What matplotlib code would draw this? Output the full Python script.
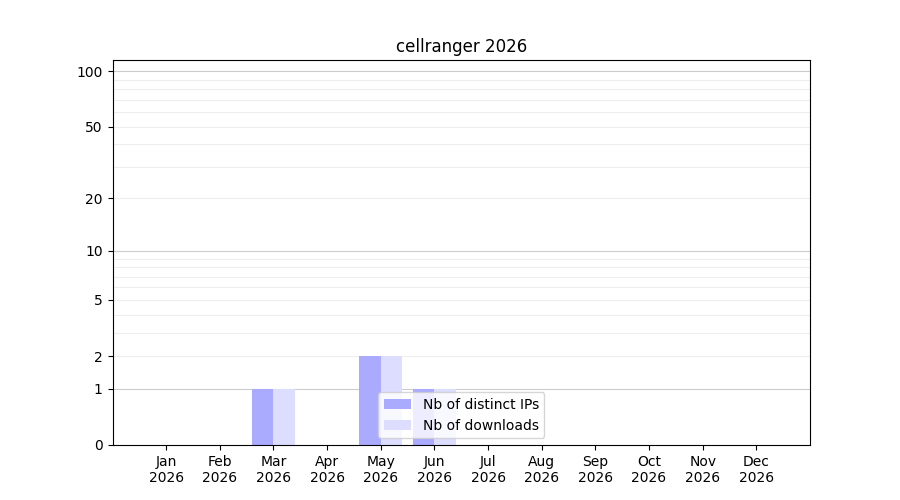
import numpy as np
import matplotlib
matplotlib.use("Agg")
import matplotlib.pyplot as plt

months = ["Jan", "Feb", "Mar", "Apr", "May", "Jun", "Jul", "Aug", "Sep", "Oct", "Nov", "Dec"]
year = "2026"
distinct_ips = [0, 0, 1, 0, 2, 1, 0, 0, 0, 0, 0, 0]
downloads = [0, 0, 1, 0, 2, 1, 0, 0, 0, 0, 0, 0]
ytick_values = [0, 1, 2, 5, 10, 20, 50, 100]
major_grid = [1, 10, 100]
minor_grid = [2, 3, 4, 5, 6, 7, 8, 9, 20, 30, 40, 50, 60, 70, 80, 90]

fig, ax = plt.subplots(figsize=(9, 5), dpi=100)
x = np.arange(1, len(months) + 1)

ax.set_yscale("function", functions=(lambda v: np.log10(1 + np.clip(v, 0, None)),
                                      lambda v: 10 ** v - 1))

for g in minor_grid:
    ax.axhline(g, color="#eeeeee", linewidth=0.8, zorder=0)
for g in major_grid:
    ax.axhline(g, color="#cccccc", linewidth=0.8, zorder=0)

ax.bar(x, distinct_ips, width=-0.4, align="edge", color="#aaaaff", label="Nb of distinct IPs", zorder=2)
ax.bar(x, downloads, width=0.4, align="edge", color="#ddddff", label="Nb of downloads", zorder=2)

ax.set_xticks(x)
ax.set_xticklabels([f"{m}\n{year}" for m in months])
ax.set_xlim(0, 13)
ax.set_ylim(0, 115)
ax.set_yticks(ytick_values)
ax.set_yticklabels([str(v) for v in ytick_values])
ax.yaxis.set_minor_locator(matplotlib.ticker.NullLocator())
ax.set_title("cellranger 2026")
ax.legend(loc="lower center")

fig.savefig("out.png", dpi=100)
